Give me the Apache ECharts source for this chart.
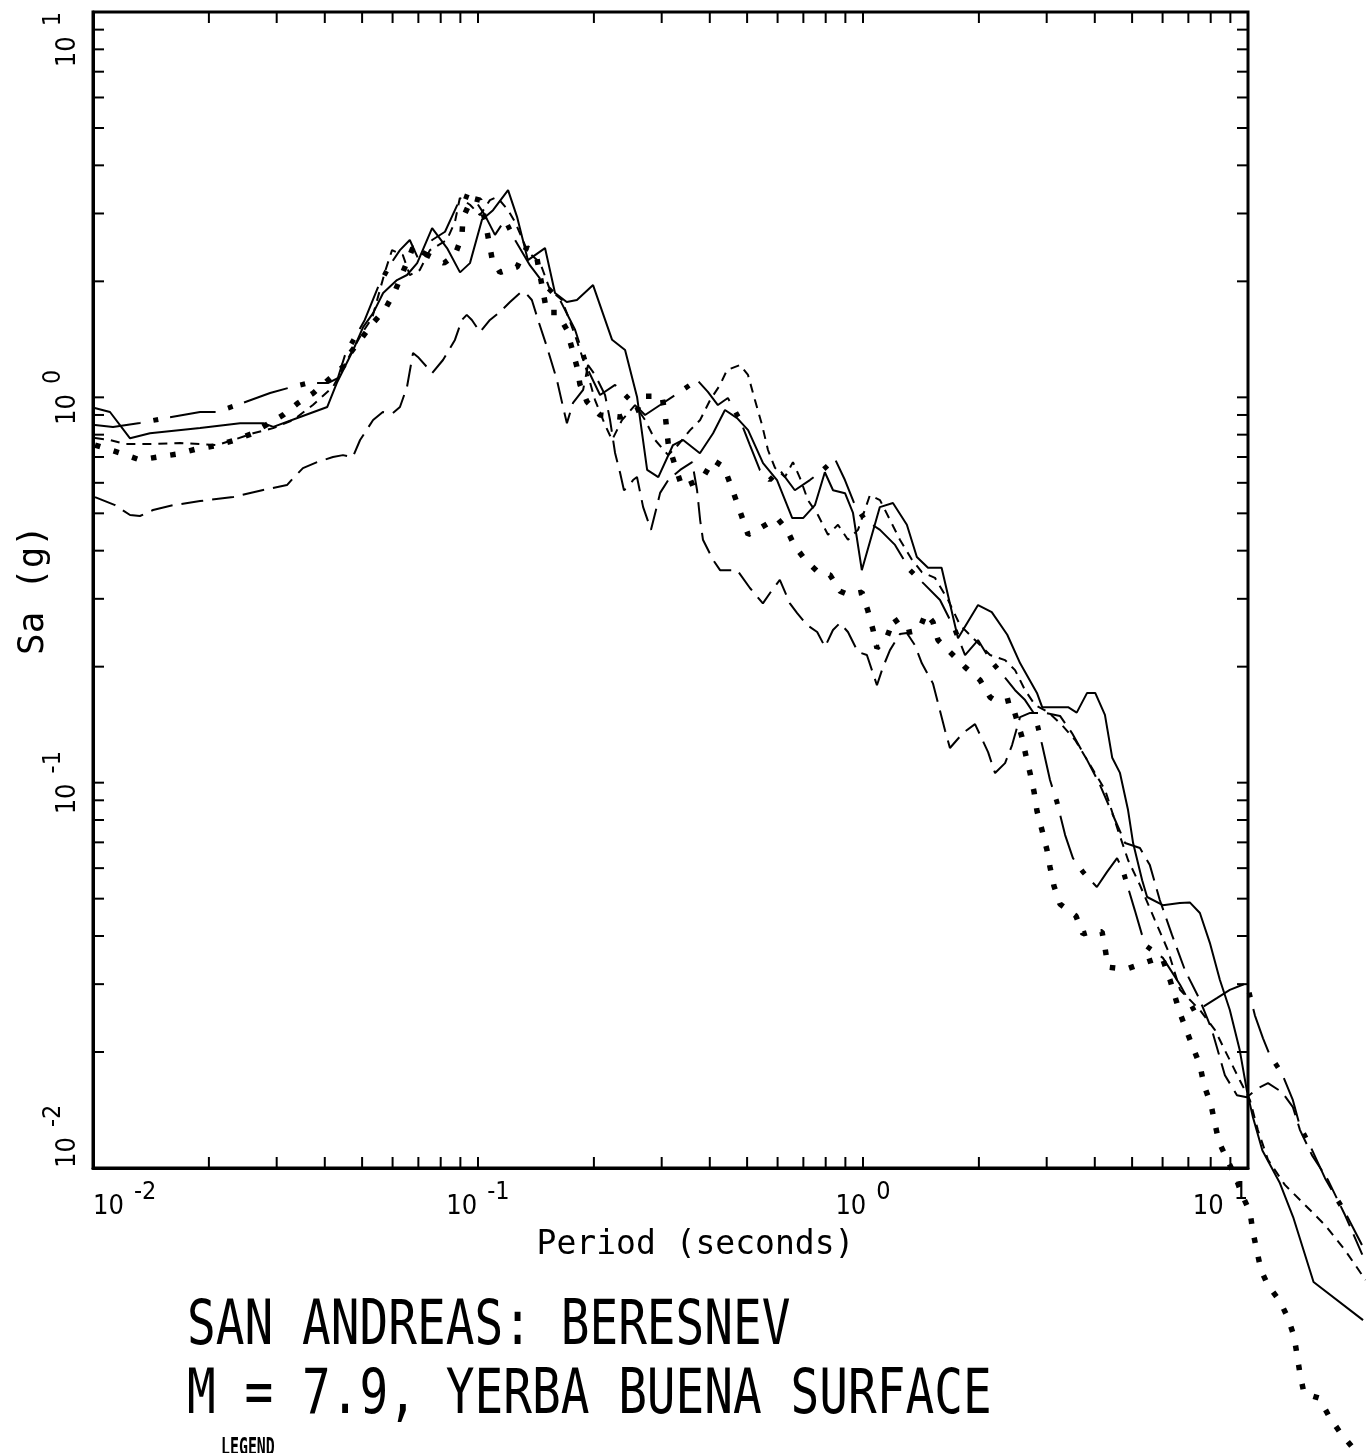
<!DOCTYPE html>
<html>
<head>
<meta charset="utf-8">
<script src="https://cdn.jsdelivr.net/npm/echarts@6/dist/echarts.min.js"></script>
<style>
  html, body { margin: 0; padding: 0; background: #fff; }
  #chart { width: 1366px; height: 1453px; }
</style>
</head>
<body>
<div id="chart"></div>
<script>
// response spectra, period (s) vs Sa (g)
const solidT = [0.0101, 0.01107, 0.01248, 0.01406, 0.01897, 0.0241, 0.0277, 0.0294, 0.0345, 0.0406, 0.0431, 0.0474, 0.0503, 0.0534, 0.0567, 0.0616, 0.0654, 0.0695, 0.0760, 0.0831, 0.0898, 0.0953, 0.1024, 0.1094, 0.1197, 0.1263, 0.1348, 0.1493, 0.1585, 0.170, 0.1807, 0.199, 0.223, 0.241, 0.259, 0.275, 0.294, 0.321, 0.341, 0.377, 0.408, 0.438, 0.471, 0.503, 0.550, 0.598, 0.655, 0.699, 0.750, 0.796, 0.836, 0.898, 0.942, 0.993, 1.106, 1.196, 1.30, 1.38, 1.475, 1.60, 1.765, 1.99, 2.16, 2.37, 2.56, 2.83, 2.92, 3.41, 3.59, 3.82, 4.01, 4.25, 4.44, 4.65, 4.88, 5.03, 5.31, 5.47, 6.01, 6.65, 7.06, 7.50, 7.96, 8.45, 8.97, 9.52, 9.93, 10.3, 10.9, 12.1, 13.1, 14.8, 19.9];
const solidSa = [0.938, 0.916, 0.783, 0.807, 0.832, 0.857, 0.857, 0.838, 0.889, 0.944, 1.096, 1.327, 1.521, 1.654, 1.866, 2.015, 2.077, 2.231, 2.75, 2.44, 2.11, 2.23, 2.89, 3.06, 3.45, 2.94, 2.27, 2.44, 1.866, 1.767, 1.789, 1.956, 1.41, 1.327, 1.00, 0.648, 0.621, 0.752, 0.775, 0.716, 0.807, 0.927, 0.883, 0.822, 0.675, 0.610, 0.486, 0.486, 0.525, 0.639, 0.574, 0.564, 0.501, 0.356, 0.519, 0.532, 0.467, 0.385, 0.361, 0.361, 0.237, 0.289, 0.277, 0.242, 0.204, 0.171, 0.157, 0.157, 0.152, 0.171, 0.171, 0.150, 0.116, 0.106, 0.0849, 0.0697, 0.0558, 0.0505, 0.0481, 0.0487, 0.0489, 0.0459, 0.0384, 0.0308, 0.0257, 0.0202, 0.0159, 0.01355, 0.0111, 0.00914, 0.00746, 0.00506, 0.00403];

const shortDashT = [0.01012, 0.01107, 0.01211, 0.01406, 0.01683, 0.02101, 0.02312, 0.02606, 0.02938, 0.0331, 0.03725, 0.0420, 0.0465, 0.0500, 0.0531, 0.0573, 0.0598, 0.0638, 0.0665, 0.0706, 0.0750, 0.0830, 0.0871, 0.0897, 0.0953, 0.1012, 0.1074, 0.1120, 0.1197, 0.1248, 0.1349, 0.1449, 0.1538, 0.1652, 0.1786, 0.1897, 0.2014, 0.2138, 0.2230, 0.2366, 0.2558, 0.2716, 0.2884, 0.3119, 0.3306, 0.3556, 0.3775, 0.4008, 0.4253, 0.4436, 0.4793, 0.5027, 0.5240, 0.5467, 0.5665, 0.5908, 0.6270, 0.6577, 0.6858, 0.7194, 0.7638, 0.8110, 0.8610, 0.9140, 0.9704, 1.042, 1.107, 1.175, 1.247, 1.340, 1.422, 1.538, 1.663, 1.786, 1.954, 2.138, 2.339, 2.483, 2.636, 2.80, 3.027, 3.29, 3.556, 3.89, 4.256, 4.594, 4.88, 5.24, 5.73, 6.19, 6.66, 7.50, 8.21, 8.71, 9.52, 10.12, 10.61, 11.27, 12.47, 14.06, 15.85, 17.86, 20.2];
const shortDashSa = [0.784, 0.775, 0.757, 0.757, 0.761, 0.752, 0.775, 0.807, 0.832, 0.873, 0.955, 1.064, 1.288, 1.469, 1.607, 2.115, 2.41, 2.34, 2.076, 2.14, 2.41, 2.56, 2.85, 3.29, 3.16, 2.97, 3.25, 3.31, 3.06, 2.85, 2.38, 2.24, 1.90, 1.79, 1.45, 1.213, 0.984, 0.848, 0.775, 0.873, 0.955, 0.873, 0.775, 0.708, 0.752, 0.822, 0.873, 0.984, 1.077, 1.178, 1.213, 1.143, 0.984, 0.848, 0.730, 0.656, 0.621, 0.679, 0.618, 0.541, 0.495, 0.440, 0.467, 0.427, 0.453, 0.557, 0.541, 0.481, 0.427, 0.379, 0.352, 0.340, 0.298, 0.2565, 0.2345, 0.2144, 0.2080, 0.1959, 0.1738, 0.1589, 0.1524, 0.141, 0.129, 0.1112, 0.0957, 0.0753, 0.0630, 0.0542, 0.0440, 0.0368, 0.0290, 0.0257, 0.0228, 0.0202, 0.0169, 0.0150, 0.01254, 0.0105, 0.00904, 0.00802, 0.00711, 0.00612, 0.00512];

const longDashT = [0.01012, 0.01141, 0.01248, 0.01324, 0.01432, 0.01615, 0.01897, 0.02312, 0.02767, 0.0319, 0.0331, 0.0351, 0.0382, 0.0420, 0.0446, 0.0473, 0.0494, 0.0534, 0.0566, 0.0601, 0.0627, 0.0654, 0.0678, 0.0698, 0.0741, 0.0760, 0.0811, 0.0871, 0.0908, 0.0935, 0.0964, 0.1012, 0.1074, 0.1140, 0.1211, 0.1285, 0.1324, 0.1380, 0.1432, 0.1510, 0.1603, 0.1663, 0.1702, 0.1765, 0.1875, 0.1931, 0.2014, 0.2138, 0.2203, 0.2270, 0.2339, 0.2394, 0.2453, 0.2528, 0.2588, 0.2685, 0.2814, 0.2899, 0.2972, 0.3119, 0.3350, 0.3600, 0.3707, 0.3775, 0.3840, 0.4077, 0.4253, 0.4710, 0.5085, 0.5495, 0.5804, 0.6081, 0.6457, 0.6745, 0.7161, 0.7603, 0.7968, 0.8356, 0.8713, 0.9140, 0.9704, 1.0235, 1.087, 1.127, 1.175, 1.247, 1.300, 1.364, 1.422, 1.519, 1.633, 1.682, 1.818, 1.954, 2.113, 2.203, 2.339, 2.439, 2.558, 2.716, 2.971, 3.249, 3.490, 3.818, 4.128, 4.516, 4.795, 5.24, 5.56, 5.90, 6.35, 6.86, 7.50, 8.06, 8.71, 9.36, 9.93, 10.61, 11.27, 12.25, 13.08, 13.65, 14.66, 16.14, 17.86, 20.2];
const longDashSa = [0.551, 0.525, 0.495, 0.492, 0.510, 0.525, 0.538, 0.551, 0.575, 0.592, 0.617, 0.655, 0.679, 0.700, 0.708, 0.700, 0.775, 0.873, 0.916, 0.910, 0.944, 1.064, 1.303, 1.273, 1.191, 1.156, 1.250, 1.409, 1.588, 1.637, 1.588, 1.476, 1.588, 1.664, 1.767, 1.865, 1.876, 1.789, 1.588, 1.352, 1.110, 0.944, 0.857, 0.967, 1.045, 1.213, 1.143, 1.014, 0.873, 0.717, 0.637, 0.574, 0.585, 0.610, 0.621, 0.519, 0.453, 0.510, 0.565, 0.610, 0.648, 0.679, 0.574, 0.481, 0.427, 0.379, 0.356, 0.356, 0.320, 0.292, 0.316, 0.336, 0.292, 0.2755, 0.2563, 0.246, 0.225, 0.249, 0.2597, 0.246, 0.2183, 0.2144, 0.179, 0.1995, 0.2208, 0.243, 0.2445, 0.2275, 0.204, 0.181, 0.1368, 0.1230, 0.1345, 0.1419, 0.1200, 0.1059, 0.1124, 0.1252, 0.148, 0.1517, 0.1517, 0.149, 0.1345, 0.1146, 0.0986, 0.080, 0.0697, 0.0677, 0.0611, 0.0496, 0.0402, 0.0326, 0.0273, 0.0228, 0.0174, 0.01545, 0.01527, 0.0161, 0.0166, 0.01574, 0.01439, 0.01254, 0.0108, 0.0093, 0.00755, 0.0057];

const dashDotT = [0.01012, 0.01127, 0.01324, 0.01493, 0.01897, 0.02086, 0.02366, 0.02884, 0.03209, 0.03615, 0.04074, 0.04325, 0.04515, 0.0508, 0.0550, 0.0590, 0.0627, 0.0665, 0.0706, 0.0760, 0.0821, 0.0871, 0.0908, 0.0982, 0.1042, 0.1107, 0.1175, 0.1248, 0.1365, 0.1493, 0.1633, 0.1787, 0.1931, 0.2075, 0.227, 0.2484, 0.2716, 0.2972, 0.325, 0.3556, 0.3707, 0.3955, 0.4198, 0.4457, 0.4793, 0.5085, 0.5395, 0.5726, 0.6077, 0.6652, 0.7278, 0.787, 0.8455, 0.8976, 0.953, 1.012, 1.107, 1.211, 1.325, 1.449, 1.585, 1.734, 1.841, 1.990, 2.14, 2.312, 2.483, 2.636, 2.80, 2.92, 3.06, 3.19, 3.35, 3.51, 3.73, 4.05, 4.30, 4.57, 4.73, 5.08, 5.40, 6.01, 6.66, 7.28, 8.30, 8.97, 9.93, 10.42, 10.94, 11.40, 12.25, 13.08, 13.65, 14.48, 15.85, 16.83, 17.86, 19.77];
const dashDotSa = [0.848, 0.838, 0.858, 0.878, 0.916, 0.916, 0.955, 1.026, 1.057, 1.089, 1.089, 1.122, 1.288, 1.588, 1.932, 2.203, 2.41, 2.56, 2.24, 2.56, 2.69, 3.06, 3.35, 3.25, 2.97, 2.64, 2.89, 2.56, 2.20, 1.955, 1.789, 1.497, 1.178, 1.014, 1.077, 0.984, 0.900, 0.955, 1.014, 1.077, 1.11, 1.033, 0.955, 0.996, 0.873, 0.752, 0.648, 0.610, 0.648, 0.574, 0.610, 0.648, 0.692, 0.610, 0.525, 0.481, 0.453, 0.414, 0.356, 0.326, 0.298, 0.249, 0.2144, 0.2345, 0.208, 0.190, 0.1738, 0.1638, 0.1496, 0.1252, 0.1016, 0.0891, 0.0731, 0.0637, 0.0586, 0.0536, 0.0586, 0.0637, 0.0593, 0.0467, 0.0379, 0.0351, 0.0299, 0.0254, 0.0276, 0.0290, 0.0302, 0.0249, 0.0217, 0.0196, 0.0176, 0.0150, 0.0128, 0.01146, 0.00941, 0.00846, 0.00769, 0.00631];

const dottedT = [0.01012, 0.01175, 0.01324, 0.01475, 0.01663, 0.01853, 0.02076, 0.02339, 0.0257, 0.0312, 0.0341, 0.0373, 0.0446, 0.0465, 0.0534, 0.0573, 0.0608, 0.0677, 0.0816, 0.0871, 0.0908, 0.0914, 0.0964, 0.1012, 0.1042, 0.1087, 0.1140, 0.1263, 0.1339, 0.1422, 0.1510, 0.1603, 0.170, 0.1754, 0.1807, 0.184, 0.192, 0.2075, 0.2339, 0.259, 0.2685, 0.3006, 0.306, 0.312, 0.329, 0.339, 0.382, 0.408, 0.4355, 0.451, 0.471, 0.503, 0.540, 0.598, 0.635, 0.662, 0.707, 0.764, 0.821, 0.872, 0.920, 0.994, 1.030, 1.062, 1.087, 1.154, 1.204, 1.286, 1.398, 1.457, 1.520, 1.566, 1.713, 1.841, 2.014, 2.138, 2.255, 2.423, 2.497, 2.588, 2.651, 2.716, 2.782, 2.831, 2.917, 3.006, 3.060, 3.134, 3.249, 3.574, 3.727, 3.887, 4.177, 4.253, 4.330, 4.822, 5.337, 5.977, 6.27, 6.66, 7.07, 7.50, 7.69, 8.02, 8.21, 8.41, 8.82, 9.31, 9.65, 10.12, 10.30, 10.55, 10.81, 11.27, 12.11, 12.70, 13.17, 13.41, 13.65, 13.98, 15.29, 16.23, 17.34, 18.62];
const dottedSa = [0.752, 0.717, 0.688, 0.700, 0.713, 0.734, 0.748, 0.775, 0.803, 0.900, 0.967, 1.025, 1.20, 1.30, 1.56, 1.69, 1.88, 2.44, 2.23, 2.34, 2.61, 2.92, 3.29, 3.25, 2.89, 2.30, 2.11, 2.18, 2.45, 2.30, 1.66, 1.66, 1.50, 1.34, 1.20, 1.08, 0.973, 0.900, 0.889, 0.927, 1.006, 1.006, 0.910, 0.757, 0.640, 0.585, 0.614, 0.687, 0.659, 0.600, 0.532, 0.440, 0.458, 0.486, 0.453, 0.414, 0.379, 0.352, 0.346, 0.314, 0.307, 0.312, 0.279, 0.249, 0.2235, 0.2387, 0.2675, 0.2445, 0.249, 0.2755, 0.261, 0.2345, 0.2144, 0.1995, 0.1845, 0.1667, 0.161, 0.1638, 0.148, 0.1313, 0.1172, 0.1059, 0.0946, 0.0844, 0.0753, 0.0668, 0.0604, 0.0539, 0.0484, 0.0451, 0.0405, 0.0410, 0.0410, 0.0372, 0.0332, 0.0328, 0.0340, 0.0353, 0.0308, 0.0252, 0.0215, 0.0185, 0.0164, 0.01456, 0.0130, 0.01167, 0.01054, 0.00941, 0.00851, 0.00769, 0.00682, 0.00609, 0.00543, 0.00496, 0.00451, 0.00408, 0.00366, 0.00327, 0.00292, 0.00260, 0.00253, 0.00227, 0.00206, 0.00189];

// framed axis range, and the wider range the curves run on past the frame
const axisMin = 0.01;
const axisMax = 10;
const overflowMaxT = 22.387;    // 10^1.35
const overflowMinSa = 0.0015849; // 10^-2.8

// tick positions: each decade with 2..9 minors
const decadeStarts = [0.01, 0.1, 1];
const tickMultipliers = [1, 2, 3, 4, 5, 6, 7, 8, 9];

const titleLine1 = "SAN ANDREAS: BERESNEV";
const titleLine2 = "M = 7.9, YERBA BUENA SURFACE";

const FONT = '"Liberation Sans Narrow", "DejaVu Sans Condensed", "Liberation Sans", sans-serif';
const MONO = '"DejaVu Sans Mono", "Liberation Mono", monospace';

const pairs = (xs, ys) => xs.map((x, i) => [x, ys[i]]);

const tickValues = [];
decadeStarts.forEach((d) => tickMultipliers.forEach((m) => tickValues.push(+(d * m).toPrecision(3))));
tickValues.push(axisMax);

const tickData = [];
tickValues.forEach((v) => {
  tickData.push([v, axisMin, 0]); // x ticks
  tickData.push([axisMin, v, 1]); // y ticks
});

// plot frame
const gridLeft = 93, gridTop = 12, gridW = 1155, gridH = 1156;
const decades = Math.log10(axisMax / axisMin);
const overflowW = gridW * Math.log10(overflowMaxT / axisMin) / decades;
const overflowH = gridH * Math.log10(axisMax / overflowMinSa) / decades;

const chart = echarts.init(document.getElementById("chart"), null, { renderer: "canvas" });

const renderTicks = (params, api) => {
  const len = 11;
  const style = { stroke: "#000", lineWidth: 2 };
  if (api.value(2) === 0) {
    const v = api.value(0);
    const b = api.coord([v, axisMin]);
    const t = api.coord([v, axisMax]);
    return {
      type: "group",
      children: [
        { type: "line", shape: { x1: b[0], y1: b[1], x2: b[0], y2: b[1] - len }, style },
        { type: "line", shape: { x1: t[0], y1: t[1], x2: t[0], y2: t[1] + len }, style },
      ],
    };
  }
  const v = api.value(1);
  const l = api.coord([axisMin, v]);
  const r = api.coord([axisMax, v]);
  return {
    type: "group",
    children: [
      { type: "line", shape: { x1: l[0], y1: l[1], x2: l[0] + len, y2: l[1] }, style },
      { type: "line", shape: { x1: r[0], y1: r[1], x2: r[0] - len, y2: r[1] }, style },
    ],
  };
};

const expLabel = (v) => "{b|10}{s|" + Math.round(Math.log10(v)) + "}";
const labelRich = {
  b: { fontSize: 27, fontFamily: FONT, color: "#000", verticalAlign: "bottom", lineHeight: 40 },
  s: { fontSize: 25, fontFamily: FONT, color: "#000", verticalAlign: "top", lineHeight: 40, padding: [0, 0, 0, 10] },
};

const lineBase = {
  type: "line",
  xAxisIndex: 1,
  yAxisIndex: 1,
  showSymbol: false,
  symbol: "none",
  clip: false,
  silent: true,
  animation: false,
};

chart.setOption({
  backgroundColor: "#fff",
  animation: false,
  grid: [
    {
      left: gridLeft,
      top: gridTop,
      width: gridW,
      height: gridH,
      show: true,
      borderColor: "#000",
      borderWidth: 3,
      containLabel: false,
      outerBoundsMode: "none",
    },
    {
      left: gridLeft,
      top: gridTop,
      width: overflowW,
      height: overflowH,
      show: false,
      containLabel: false,
      outerBoundsMode: "none",
    },
  ],
  xAxis: [
    {
      type: "log",
      logBase: 10,
      min: axisMin,
      max: axisMax,
      splitNumber: 3,
      axisLine: { show: true, lineStyle: { color: "#000", width: 3 } },
      axisTick: { show: false },
      minorTick: { show: false },
      splitLine: { show: false },
      axisLabel: {
        formatter: expLabel,
        rich: labelRich,
        margin: 12,
        alignMinLabel: "left",
        alignMaxLabel: "right",
      },
      name: "Period (seconds)",
      nameLocation: "middle",
      nameGap: 61,
      nameMoveOverlap: false,
      nameTextStyle: { fontSize: 33, fontFamily: MONO, color: "#000", padding: [0, 0, 0, 50] },
    },
    { type: "log", gridIndex: 1, logBase: 10, min: axisMin, max: overflowMaxT, show: false },
  ],
  yAxis: [
    {
      type: "log",
      logBase: 10,
      min: axisMin,
      max: axisMax,
      splitNumber: 3,
      axisLine: { show: true, lineStyle: { color: "#000", width: 3 } },
      axisTick: { show: false },
      minorTick: { show: false },
      splitLine: { show: false },
      axisLabel: {
        formatter: expLabel,
        rich: labelRich,
        rotate: 90,
        margin: 12,
        alignMinLabel: "left",
        alignMaxLabel: "right",
      },
      name: "Sa (g)",
      nameLocation: "middle",
      nameGap: 41,
      nameMoveOverlap: false,
      nameRotate: 90,
      nameTextStyle: { fontSize: 36, fontFamily: MONO, color: "#000" },
    },
    { type: "log", gridIndex: 1, logBase: 10, min: overflowMinSa, max: axisMax, show: false },
  ],
  graphic: [
    { type: "text", x: 187, y: 1297, scaleX: 0.77, style: { text: titleLine1, font: "62px " + MONO, fill: "#000", verticalAlign: "top" } },
    { type: "text", x: 187, y: 1366, scaleX: 0.77, style: { text: titleLine2, font: "62px " + MONO, fill: "#000", verticalAlign: "top" } },
    { type: "text", x: 221, y: 1437, scaleX: 0.62, style: { text: "LEGEND", font: "bold 24px " + MONO, fill: "#000", verticalAlign: "top" } },
  ],
  series: [
    {
      type: "custom",
      silent: true,
      coordinateSystem: "cartesian2d",
      renderItem: renderTicks,
      encode: { x: 0, y: 1 },
      data: tickData,
      z: 5,
    },
    Object.assign({}, lineBase, {
      name: "solid",
      data: pairs(solidT, solidSa),
      lineStyle: { color: "#000", width: 2 },
    }),
    Object.assign({}, lineBase, {
      name: "short dash",
      data: pairs(shortDashT, shortDashSa),
      lineStyle: { color: "#000", width: 2, type: [9, 7] },
    }),
    Object.assign({}, lineBase, {
      name: "long dash",
      data: pairs(longDashT, longDashSa),
      lineStyle: { color: "#000", width: 2, type: [22, 9] },
    }),
    // dash-dot: long dashes, plus square dots laid on the same path
    Object.assign({}, lineBase, {
      name: "dash dot",
      data: pairs(dashDotT, dashDotSa),
      lineStyle: { color: "#000", width: 2, type: [46, 30] },
    }),
    Object.assign({}, lineBase, {
      name: "dash dot squares",
      data: pairs(dashDotT, dashDotSa),
      lineStyle: { color: "#000", width: 5, type: [5, 71], dashOffset: 17 },
    }),
    Object.assign({}, lineBase, {
      name: "dotted",
      data: pairs(dottedT, dottedSa),
      lineStyle: { color: "#000", width: 5.5, type: [5.5, 14] },
    }),
  ],
});
</script>
</body>
</html>
